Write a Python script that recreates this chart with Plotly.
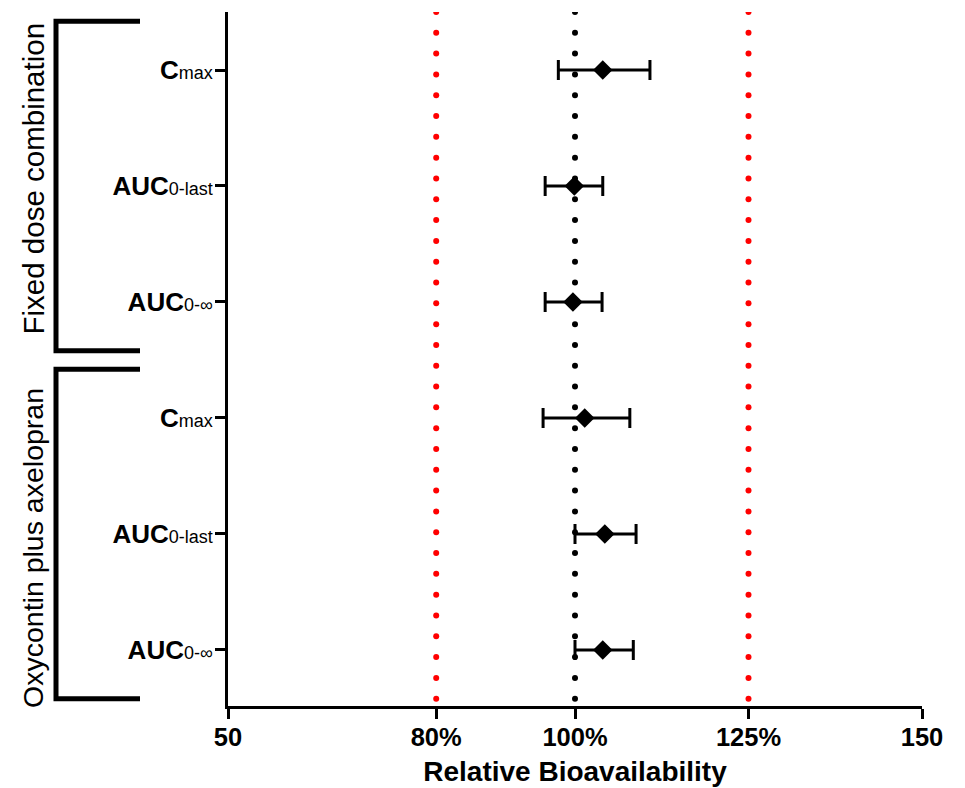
import numpy as np
import plotly.graph_objects as go

# ---- data ----
param_labels = ["<b>C</b><span style='font-size:18px'>max</span>",
                "<b>AUC</b><span style='font-size:18px'>0-last</span>",
                "<b>AUC</b><span style='font-size:18px'>0-∞</span>"]
groups = ["Fixed dose combination", "Oxycontin plus axelopran"]
fdc_est = [104.0, 99.9, 99.7]
fdc_lo = [97.6, 95.7, 95.7]
fdc_hi = [110.8, 104.0, 103.9]
oxy_est = [101.4, 104.3, 104.0]
oxy_lo = [95.4, 100.0, 100.0]
oxy_hi = [107.9, 108.8, 108.4]
ref_lines = [80, 100, 125]
ref_colors = ["red", "black", "red"]
x_ticks = [50, 80, 100, 125, 150]
x_ticklabels = ["50", "80%", "100%", "125%", "150"]

FONT = "Liberation Sans, Arial, Helvetica, sans-serif"

est = fdc_est + oxy_est
lo = fdc_lo + oxy_lo
hi = fdc_hi + oxy_hi
ypos = list(range(1, len(est) + 1))
yticktext = param_labels * 2

fig = go.Figure()

# dotted reference lines
dot_y = np.linspace(0.5, 6.42, 34)
for xv, col in zip(ref_lines, ref_colors):
    fig.add_trace(go.Scatter(x=[xv] * len(dot_y), y=dot_y, mode="markers",
                             marker=dict(symbol="circle", size=6, color=col),
                             hoverinfo="skip", showlegend=False))

fig.add_trace(go.Scatter(
    x=est, y=ypos, mode="markers",
    marker=dict(symbol="diamond", size=15, color="black"),
    error_x=dict(type="data", symmetric=False,
                 array=[h - e for h, e in zip(hi, est)],
                 arrayminus=[e - l for e, l in zip(est, lo)],
                 color="black", thickness=3, width=10),
    showlegend=False))

# group brackets
PW = 694  # plot width in px
x0p = (56 - 228) / PW
x1p = (140 - 228) / PW
spans = [(1, 3), (4, 6)]
for (a, b) in spans:
    ya, yb = a - 0.42, b + 0.42
    fig.add_shape(type="path", xref="paper", yref="y",
                  path=f"M {x1p},{ya} L {x0p},{ya} L {x0p},{yb} L {x1p},{yb}",
                  line=dict(color="black", width=5))

label_y = [0.5 + (178.5 - 12) / 116, 0.5 + (548 - 12) / 116]
label_size = [29.5, 28.5]
for g, yv, fs in zip(groups, label_y, label_size):
    fig.add_annotation(text=g, xref="paper", yref="y", x=(33 - 228) / PW, y=yv,
                       textangle=-90, showarrow=False,
                       font=dict(family=FONT, size=fs, color="black"),
                       xanchor="center", yanchor="middle")

fig.update_xaxes(range=[50, 150], tickvals=x_ticks, ticktext=x_ticklabels,
                 showline=True, linecolor="black", linewidth=3,
                 ticks="outside", ticklen=10, tickwidth=3, tickcolor="black",
                 ticklabelstandoff=-4,
                 tickfont=dict(family=FONT, size=25.5, color="black", weight="bold"),
                 showgrid=False, zeroline=False,
                 title=dict(text="Relative Bioavailability", standoff=12,
                            font=dict(family=FONT, size=28, color="black", weight="bold")))
fig.update_yaxes(range=[6.483, 0.5], tickvals=ypos, ticktext=yticktext,
                 showline=True, linecolor="black", linewidth=3,
                 ticks="outside", ticklen=10, tickwidth=3, tickcolor="black",
                 ticklabelstandoff=-3,
                 tickfont=dict(family=FONT, size=26, color="black"),
                 showgrid=False, zeroline=False)

fig.update_layout(width=957, height=780,
                  margin=dict(l=220, r=43, t=4, b=82),
                  plot_bgcolor="white", paper_bgcolor="white",
                  font=dict(family=FONT, color="black"))

fig.write_html("out.html")
